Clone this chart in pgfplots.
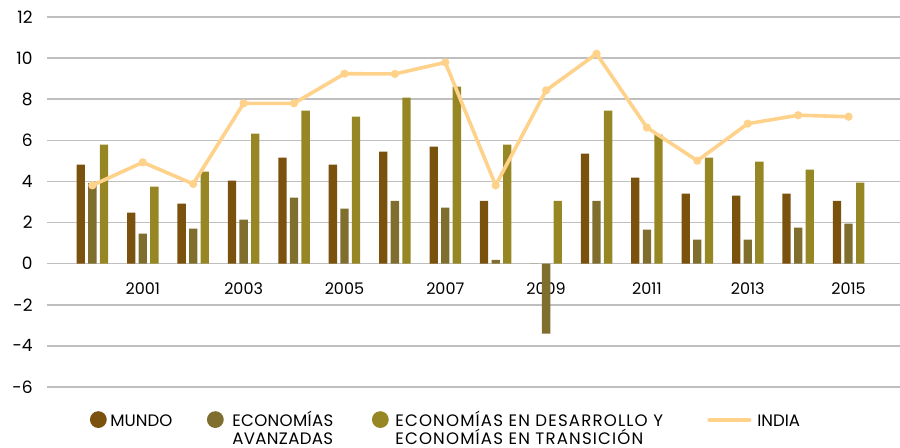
\documentclass[border=0pt]{standalone}
\usepackage{pgfplots}
\pgfplotsset{compat=1.18}
\usepackage{fontspec}
\setmainfont{Poppins}
\definecolor{mundo}{RGB}{122,81,13}
\definecolor{avanz}{RGB}{128,110,47}
\definecolor{desar}{RGB}{150,135,36}
\definecolor{india}{RGB}{255,210,140}
\definecolor{gridc}{RGB}{191,191,191}
\begin{document}
\begin{tikzpicture}
\useasboundingbox (-23.5pt,-30.5pt) rectangle (426.5pt,193.5pt);
\begin{axis}[
  scale only axis,
  width=426.5pt, height=185pt,
  xmin=-0.9, xmax=16.02,
  ymin=-6, ymax=12,
  ytick={-6,-4,-2,0,2,4,6,8,10,12},
  yticklabels={-6,-4,-2,0,2,4,6,8,10,12},
  xtick={1,3,5,7,9,11,13,15},
  xticklabels={2001,2003,2005,2007,2009,2011,2013,2015},
  axis line style={draw=none},
  tick style={draw=none},
  ymajorgrids,
  major grid style={draw=gridc, line width=0.8pt},
  yticklabel style={font=\fontsize{8.5}{10}\selectfont, anchor=east, inner xsep=0pt, xshift=-7pt},
  xticklabel style={font=\fontsize{8}{10}\selectfont, anchor=center, yshift=49.2pt},
  legend columns=4,
  legend style={draw=none, fill=none, at={(axis description cs:0.0499,0)}, anchor=north west,
    yshift=-9.9pt, inner sep=0pt, column sep=0pt,
    font=\fontsize{8.3}{8.8}\selectfont,
    cells={anchor=base west, inner ysep=0pt, align=left}},
]
\addplot[ybar, bar width=0.165, bar shift=-0.23, fill=mundo, draw=none,
  legend image code/.code={\fill[mundo] (0pt,0.35em) circle (4.2pt);}]
  coordinates {(0,4.82) (1,2.48) (2,2.92) (3,4.04) (4,5.16) (5,4.82) (6,5.45) (7,5.69)
  (8,3.06) (9,0) (10,5.35) (11,4.18) (12,3.41) (13,3.31) (14,3.41) (15,3.06)};
\addlegendentry[text width=46.5pt, inner xsep=1.8pt]{MUNDO}
\addplot[ybar, bar width=0.165, bar shift=0, fill=avanz, draw=none,
  legend image code/.code={\fill[avanz] (0pt,0.35em) circle (4.2pt);}]
  coordinates {(0,3.92) (1,1.46) (2,1.70) (3,2.14) (4,3.21) (5,2.68) (6,3.06) (7,2.72)
  (8,0.19) (9,-3.40) (10,3.06) (11,1.65) (12,1.17) (13,1.17) (14,1.75) (15,1.95)};
\addlegendentry[text width=65.5pt, inner xsep=4.3pt]{\addfontfeatures{LetterSpace=2}ECONOMÍAS\\AVANZADAS}
\addplot[ybar, bar width=0.165, bar shift=0.23, fill=desar, draw=none,
  legend image code/.code={\fill[desar] (0pt,0.35em) circle (4.2pt);}]
  coordinates {(0,5.79) (1,3.75) (2,4.48) (3,6.32) (4,7.44) (5,7.15) (6,8.08) (7,8.61)
  (8,5.79) (9,3.06) (10,7.44) (11,6.28) (12,5.16) (13,4.96) (14,4.57) (15,3.94)};
\addlegendentry[text width=152.7pt, inner xsep=3.3pt]{\addfontfeatures{LetterSpace=7}ECONOMÍAS EN DESARROLLO Y\\ECONOMÍAS EN TRANSICIÓN}
\addplot[india, line width=1.8pt, mark=*, mark size=1.1pt, mark options={fill=india, draw=india},
  legend image code/.code={\draw[india, line width=2pt, line cap=round] (0pt,0.35em) -- (20pt,0.35em);}]
  coordinates {(0,3.81) (1,4.93) (2,3.88) (3,7.80) (4,7.80) (5,9.24) (6,9.23) (7,9.79)
  (8,3.81) (9,8.43) (10,10.21) (11,6.62) (12,5.01) (13,6.81) (14,7.22) (15,7.15)};
\addlegendentry[text width=40pt, inner xsep=3pt]{INDIA}
\end{axis}
\end{tikzpicture}
\end{document}
